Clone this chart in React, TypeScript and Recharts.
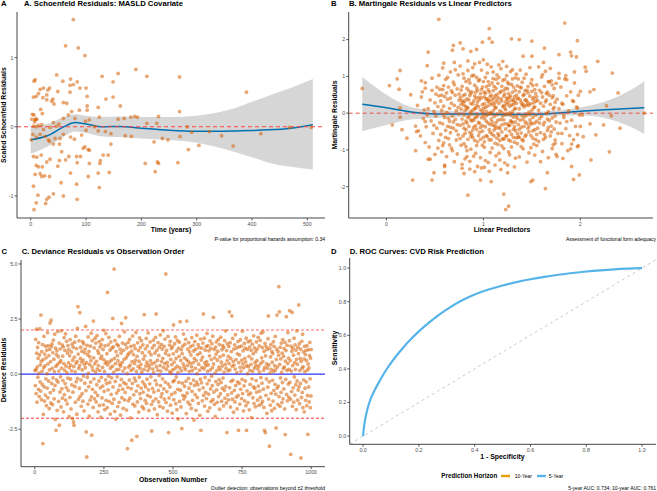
import React from 'react';
import { Area, ComposedChart, Line, ReferenceLine, Scatter, XAxis, YAxis } from 'recharts';

const FONT = '"Liberation Sans", Arial, Helvetica, sans-serif';
const POINT = '#D55E00';
const FIT = '#0072B2';
const AXIS = '#333333';

// A. Schoenfeld residuals (time, scaled residual)
const schoenfeldPoints: [number, number][] = [
  [77,1.55],[63,1.17],[86,1.14],[98,1.03],[190,0.83],[158,0.77],[129,0.73],[210,0.73],[269,0.72],[47,0.75],
  [8,0.68],[6,0.66],[58,0.66],[72,0.69],[84,0.65],[149,0.65],[17,0.54],[23,0.56],[34,0.56],[31,0.53],
  [49,0.51],[71,0.6],[77,0.61],[89,0.56],[100,0.56],[390,0.5],[5,0.43],[10,0.44],[14,0.48],[22,0.42],
  [29,0.39],[38,0.37],[40,0.4],[29,0.46],[71,0.5],[102,0.44],[136,0.4],[149,0.43],[162,0.3],[3,0.18],
  [6,0.17],[11,0.11],[18,0.25],[21,0.19],[42,0.33],[59,0.35],[65,0.34],[74,0.22],[88,0.24],[102,0.3],
  [102,0.24],[122,0.28],[8,0.1],[5,0.01],[14,0.02],[23,-0.04],[35,-0.01],[41,0.06],[47,0.01],[51,0.04],
  [59,0.12],[68,0.17],[80,0.12],[99,0.08],[106,0.1],[124,0.14],[158,0.11],[169,0.12],[181,0.14],[188,0.15],
  [193,0.14],[210,0.05],[231,0.15],[228,0.05],[269,0.22],[283,0],[291,-0.08],[323,-0.07],[345,-0.13],[416,-0.1],
  [468,-0.01],[507,-0.01],[1,-0.19],[10,-0.15],[17,-0.11],[26,-0.14],[34,-0.21],[41,-0.25],[44,-0.17],[53,-0.17],
  [59,-0.11],[72,-0.15],[79,-0.18],[92,-0.12],[98,-0.29],[106,-0.34],[122,-0.06],[135,-0.07],[145,-0.1],[171,-0.13],
  [182,-0.14],[223,-0.22],[238,-0.17],[248,-0.19],[270,-0.14],[285,-0.33],[304,-0.27],[366,-0.28],[5,-0.43],[11,-0.44],
  [19,-0.41],[29,-0.51],[35,-0.47],[52,-0.49],[63,-0.48],[69,-0.43],[83,-0.43],[84,-0.52],[104,-0.33],[106,-0.53],
  [125,-0.53],[131,-0.41],[140,-0.41],[126,-0.49],[145,-0.25],[10,-0.56],[14,-0.58],[21,-0.58],[25,-0.71],[17,-0.68],
  [8,-0.69],[34,-0.72],[20,-0.72],[49,-0.57],[72,-0.67],[83,-0.83],[55,-0.81],[104,-0.72],[122,-0.67],[142,-0.66],
  [124,-0.88],[207,-0.53],[229,-0.51],[231,-0.53],[266,-0.52],[225,-0.65],[5,-0.86],[41,-0.97],[33,-1.02],[29,-1.05],
  [13,-0.99],[59,-1],[84,-1.05],[10,-1.1],[27,-1.11],[6,-1.2],[10,0],[9,0.11],[7,0.07],[4,-0.11],
  [2,0.11],[20,0.03],[32,-0.19],[52,-0.25],[56,-0.36],[100,-0.05],[115,0],[95,-0.31],[90,-0.43],
];
const schoenfeldTime = [0, 30, 60, 80, 100, 130, 160, 200, 250, 300, 340, 370, 400, 430, 470, 510];
const schoenfeldFit = [-0.19, -0.13, 0, 0.06, 0.04, 0, 0.005, -0.02, -0.05, -0.065, -0.065, -0.06, -0.055, -0.045, -0.02, 0.03];
const schoenfeldLower = [-0.39, -0.29, -0.14, -0.07, -0.09, -0.14, -0.15, -0.17, -0.19, -0.23, -0.3, -0.37, -0.44, -0.52, -0.58, -0.62];
const schoenfeldUpper = [0.01, 0.04, 0.14, 0.18, 0.16, 0.14, 0.15, 0.14, 0.14, 0.16, 0.21, 0.27, 0.36, 0.45, 0.56, 0.69];

// B. Martingale residuals (linear predictor, residual)
const martingalePoints: [number, number][] = [
  [-0.25,0.67],[0.03,0.75],[0.13,0.65],[0.11,0.93],[0.14,1.16],[0.14,0.14],[0.14,-0.11],[0.16,-0.45],[0.06,-0.32],[0.21,-0.68],
  [0.27,-1.82],[0.25,0.5],[0.3,-0.35],[0.31,-0.5],[0.3,-1.02],[0.43,1.66],[0.42,1.29],[0.36,0.88],[0.4,0.68],[0.39,0.09],
  [0.4,-0.23],[0.4,-0.8],[0.43,-1.25],[0.49,-1.62],[0.47,-1.82],[0.54,2.55],[0.54,1.03],[0.55,0.65],[0.59,1.36],[0.59,0.75],
  [0.58,-0.88],[0.6,-1.41],[0.6,-1.62],[0.69,1.84],[0.68,1.71],[0.7,1.38],[0.76,1.91],[0.79,1.75],[0.78,-1.5],[0.8,-1.64],
  [0.84,-2.23],[0.83,-1.18],[0.87,1.68],[0.93,1.73],[0.91,-1.59],[0.97,-1.82],[0.99,1.93],[1.06,2.3],[1.06,2.03],[1.09,1.93],
  [1.01,-1.47],[1.08,-1.86],[1.16,-1.09],[1.21,-2.2],[1.23,-2.62],[1.26,-2.53],[1.29,2.02],[1.25,-1.62],[1.37,2],[1.41,1.55],
  [1.5,1.96],[1.5,1.55],[1.49,-1.86],[1.51,-1.82],[1.63,1.77],[1.64,-2.05],[1.66,-1.62],[1.78,1.59],[1.84,2.45],[1.9,1.66],
  [1.91,1.56],[1.96,1.53],[1.97,1.97],[1.93,-1.8],[1.99,-1.68],[1.91,-1.45],[2.05,1.25],[2.06,1.14],[2.18,1.41],[2.33,1.09],
  [2.39,0.55],[2.41,-0.41],[2.3,-1.05],[2.11,-1.27],[2.1,-0.29],[2.16,-0.59],[2.24,-0.32],[2.27,0.2],[2.32,-0.07],[2.66,0],
  [2.14,0.64],[2.1,0.58],[2,0.59],[2.02,-0.05],[2.03,-0.64],[2,-0.36],[1.97,-0.91],[1.91,-0.84],[1.93,0.32],[1.97,0.14],
  [1.81,0.27],[1.83,-0.05],[1.81,-0.55],[1.86,-0.23],[1.74,-0.82],[1.76,-1.18],[1.71,0.77],[1.67,0.86],[1.78,0.95],[1.85,1.02],
  [0.32,0.21],[0.35,-0.62],[0.36,0.44],[0.38,-0.15],[0.4,0.83],[0.41,-0.37],[0.43,0.12],[0.44,-0.92],[0.45,0.36],[0.46,-0.21],
  [0.47,0.62],[0.48,-0.55],[0.49,0.05],[0.5,-1.12],[0.5,0.28],[0.51,-0.08],[0.52,0.71],[0.52,-0.41],[0.53,0.18],[0.54,-0.74],
  [0.54,0.47],[0.55,-0.26],[0.33,-0.48],[0.37,0.58],[0.42,-0.05],[0.45,-1.25],[0.47,0.95],[0.49,-0.33],[0.51,0.52],[0.53,-0.95],
  [0.56,0.33],[0.56,-0.58],[0.57,0.08],[0.57,-1.05],[0.58,0.64],[0.58,-0.29],[0.59,0.19],[0.59,-0.81],[0.6,0.45],[0.6,-0.12],
  [0.61,0.92],[0.61,-0.47],[0.62,0.02],[0.62,-1.18],[0.63,0.38],[0.63,-0.36],[0.64,0.71],[0.64,-0.69],[0.65,0.13],[0.65,-0.22],
  [0.66,1.12],[0.66,-0.53],[0.67,0.27],[0.67,-0.95],[0.68,0.56],[0.68,-0.08],[0.69,0.84],[0.69,-0.41],[0.7,0.21],[0.7,-1.32],
  [0.71,0.49],[0.71,-0.17],[0.72,0.07],[0.72,-0.73],[0.73,0.66],[0.73,-0.31],[0.74,1.04],[0.74,-0.59],[0.75,0.35],[0.75,-0.02],
  [0.58,1.23],[0.6,-1.45],[0.62,0.55],[0.64,-0.14],[0.66,0.41],[0.68,-1.02],[0.7,0.77],[0.72,-0.48],[0.74,0.16],[0.57,0.49],
  [0.61,-0.66],[0.63,0.97],[0.65,-0.86],[0.67,0.61],[0.69,-0.24],[0.71,1.18],[0.73,-1.11],[0.75,0.52],[0.59,-0.04],[0.66,-0.38],
  [0.76,0.42],[0.76,-0.33],[0.77,0.11],[0.77,-0.87],[0.78,0.73],[0.78,-0.16],[0.79,0.29],[0.79,-0.62],[0.8,0.95],[0.8,-0.05],
  [0.81,0.51],[0.81,-1.24],[0.82,0.18],[0.82,-0.45],[0.83,0.67],[0.83,-0.27],[0.84,1.16],[0.84,-0.71],[0.85,0.36],[0.85,-0.09],
  [0.86,0.82],[0.86,-0.52],[0.87,0.04],[0.87,-0.98],[0.88,0.58],[0.88,-0.21],[0.89,0.25],[0.89,-0.66],[0.9,1.03],[0.9,-0.38],
  [0.91,0.47],[0.91,-0.13],[0.92,0.14],[0.92,-1.09],[0.93,0.69],[0.93,-0.44],[0.94,0.31],[0.94,-0.78],[0.95,0.88],[0.95,-0.25],
  [0.77,0.63],[0.78,-1.39],[0.79,1.07],[0.8,-0.41],[0.81,0.07],[0.82,-0.91],[0.83,0.39],[0.84,-0.12],[0.85,0.91],[0.86,-1.31],
  [0.87,0.54],[0.88,-0.57],[0.89,1.24],[0.9,-0.19],[0.91,0.76],[0.92,-0.34],[0.93,0.22],[0.94,-1.45],[0.95,0.43],[0.76,-0.69],
  [0.78,0.34],[0.8,-0.83],[0.82,0.86],[0.84,0.15],[0.86,0.48],[0.88,-0.02],[0.9,0.33],[0.92,0.57],[0.94,-0.06],[0.79,-0.29],
  [0.81,-0.55],[0.83,-1.02],[0.85,-0.36],[0.87,-0.18],[0.89,-0.46],[0.91,-0.74],[0.93,-0.11],[0.95,-0.61],[0.77,0.24],[0.79,0.47],
  [0.81,0.33],[0.83,0.12],[0.85,0.61],[0.87,0.26],[0.89,0.08],[0.91,1.34],[0.93,0.97],[0.95,0.18],[0.76,1.28],[0.84,1.42],
  [0.86,-1.52],[0.88,1.01],[0.9,-1.17],[0.92,0.41],[0.94,0.62],[0.8,0.21],[0.82,-0.22],[0.87,-0.63],[0.91,0.12],[0.93,-0.88],
  [0.96,0.37],[0.96,-0.28],[0.97,0.09],[0.97,-0.71],[0.98,0.64],[0.98,-0.12],[0.99,0.23],[0.99,-0.49],[1,0.86],[1,-0.06],
  [1.01,0.44],[1.01,-0.93],[1.02,0.16],[1.02,-0.37],[1.03,0.72],[1.03,-0.22],[1.04,1.09],[1.04,-0.64],[1.05,0.31],[1.05,-0.03],
  [1.06,0.58],[1.06,-0.45],[1.07,0.02],[1.07,-1.07],[1.08,0.49],[1.08,-0.16],[1.09,0.27],[1.09,-0.57],[1.1,0.94],[1.1,-0.33],
  [1.11,0.41],[1.11,-0.09],[1.12,0.13],[1.12,-0.82],[1.13,0.67],[1.13,-0.41],[1.14,0.35],[1.14,-0.68],[1.15,0.81],[1.15,-0.19],
  [0.96,0.91],[0.97,-1.21],[0.98,1.17],[0.99,-0.34],[1,0.12],[1.01,-0.78],[1.02,0.54],[1.03,-0.07],[1.04,0.39],[1.05,-1.34],
  [1.06,0.76],[1.07,-0.52],[1.08,1.26],[1.09,-0.24],[1.1,0.61],[1.11,-0.46],[1.12,0.29],[1.13,-1.16],[1.14,0.51],[1.15,-0.56],
  [0.96,-0.52],[0.98,0.42],[1,-0.66],[1.02,0.97],[1.04,0.19],[1.06,0.34],[1.08,-0.01],[1.1,0.06],[1.12,0.47],[1.14,-0.04],
  [0.97,0.53],[0.99,0.71],[1.01,0.26],[1.03,0.38],[1.05,0.63],[1.07,0.23],[1.09,0.82],[1.11,0.73],[1.13,0.16],[1.15,0.42],
  [0.97,-0.39],[0.99,-0.87],[1.01,-0.15],[1.03,-0.61],[1.05,-0.27],[1.07,-0.31],[1.09,-0.95],[1.11,-0.62],[1.13,-0.26],[1.15,-0.85],
  [0.96,1.38],[0.98,-1.49],[1,1.45],[1.02,-1.29],[1.04,1.33],[1.06,-1.58],[1.08,-0.73],[1.1,1.12],[1.12,-1.41],[1.14,1.04],
  [1.01,0.57],[1.03,0.05],[1.05,0.86],[1.07,0.45],[1.09,0.37],[1.11,0.21],[1.13,0.92],[0.99,0.04],[1.06,-0.72],[1.12,-0.35],
  [1.16,0.27],[1.16,-0.38],[1.17,0.06],[1.17,-0.74],[1.18,0.59],[1.18,-0.17],[1.19,0.33],[1.19,-0.51],[1.2,0.89],[1.2,-0.08],
  [1.21,0.46],[1.21,-0.96],[1.22,0.14],[1.22,-0.29],[1.23,0.68],[1.23,-0.43],[1.24,1.02],[1.24,-0.61],[1.25,0.38],[1.25,-0.02],
  [1.26,0.53],[1.26,-0.34],[1.27,0.01],[1.27,-1.13],[1.28,0.47],[1.28,-0.21],[1.29,0.22],[1.29,-0.58],[1.3,0.93],[1.3,-0.26],
  [1.31,0.36],[1.31,-0.11],[1.32,0.11],[1.32,-0.79],[1.33,0.62],[1.33,-0.47],[1.34,0.27],[1.34,-0.67],[1.35,0.74],[1.35,-0.14],
  [1.16,0.97],[1.17,-1.27],[1.18,1.21],[1.19,-0.32],[1.2,0.18],[1.21,-0.71],[1.22,0.52],[1.23,-0.04],[1.24,0.41],[1.25,-1.41],
  [1.26,0.79],[1.27,-0.49],[1.28,1.13],[1.29,-0.23],[1.3,0.57],[1.31,-0.44],[1.32,0.31],[1.33,-1.22],[1.34,0.49],[1.35,-0.55],
  [1.16,-0.61],[1.18,0.39],[1.2,-0.69],[1.22,0.92],[1.24,0.24],[1.26,0.29],[1.28,-0.05],[1.3,0.04],[1.32,0.44],[1.34,-0.07],
  [1.17,0.56],[1.19,0.73],[1.21,0.21],[1.23,0.31],[1.25,0.66],[1.27,0.19],[1.29,0.78],[1.31,0.71],[1.33,0.13],[1.35,0.39],
  [1.17,-0.42],[1.19,-0.89],[1.21,-0.18],[1.23,-0.64],[1.25,-0.29],[1.27,-0.33],[1.29,-0.92],[1.31,-0.66],[1.33,-0.24],[1.35,-0.83],
  [1.16,1.31],[1.18,-1.53],[1.2,1.41],[1.22,-1.35],[1.24,1.27],[1.26,-1.05],[1.28,-0.76],[1.3,1.18],[1.32,-1.46],[1.34,1.06],
  [1.21,0.62],[1.23,0.09],[1.25,0.84],[1.27,0.43],[1.29,0.35],[1.31,0.24],[1.33,0.96],[1.19,0.03],[1.26,-0.73],[1.32,-0.37],
  [1.36,0.41],[1.36,-0.31],[1.37,0.12],[1.37,-0.66],[1.38,0.71],[1.38,-0.19],[1.39,0.29],[1.39,-0.54],[1.4,0.84],[1.4,-0.07],
  [1.41,0.48],[1.41,-0.97],[1.42,0.17],[1.42,-0.36],[1.43,0.61],[1.43,-0.24],[1.44,1.06],[1.44,-0.59],[1.45,0.32],[1.45,-0.04],
  [1.46,0.55],[1.46,-0.42],[1.47,0.03],[1.47,-1.08],[1.48,0.46],[1.48,-0.18],[1.49,0.26],[1.49,-0.61],[1.5,0.91],[1.5,-0.29],
  [1.51,0.38],[1.51,-0.12],[1.52,0.15],[1.52,-0.84],[1.53,0.64],[1.53,-0.45],[1.54,0.33],[1.54,-0.72],[1.55,0.77],[1.55,-0.22],
  [1.36,0.93],[1.37,-1.19],[1.38,1.17],[1.39,-0.38],[1.4,0.22],[1.41,-0.75],[1.42,0.51],[1.43,-0.09],[1.44,0.37],[1.45,-1.33],
  [1.46,0.72],[1.47,-0.51],[1.48,1.24],[1.49,-0.26],[1.5,0.59],[1.51,-0.48],[1.52,0.28],[1.53,-1.14],[1.54,0.53],[1.55,-0.58],
  [1.36,-0.64],[1.38,0.36],[1.4,-0.72],[1.42,0.95],[1.44,0.21],[1.46,0.26],[1.48,-0.03],[1.5,0.08],[1.52,0.43],[1.54,-0.06],
  [1.37,0.58],[1.39,0.69],[1.41,0.24],[1.43,0.35],[1.45,0.62],[1.47,0.21],[1.49,0.81],[1.51,0.75],[1.53,0.17],[1.55,0.44],
  [1.37,-0.44],[1.39,-0.91],[1.41,-0.16],[1.43,-0.63],[1.45,-0.28],[1.47,-0.35],[1.49,-0.94],[1.51,-0.68],[1.53,-0.27],[1.55,-0.88],
  [1.56,0.34],[1.56,-0.41],[1.57,0.08],[1.57,-0.77],[1.58,0.62],[1.58,-0.15],[1.59,0.27],[1.59,-0.53],[1.6,0.98],[1.6,-0.09],
  [1.61,0.44],[1.61,-1.04],[1.62,0.19],[1.62,-0.32],[1.63,0.73],[1.63,-0.25],[1.64,1.14],[1.64,-0.66],[1.65,0.36],[1.65,-0.01],
  [1.66,0.57],[1.66,-0.47],[1.67,0.04],[1.67,-1.21],[1.68,0.49],[1.68,-0.2],[1.69,0.24],[1.69,-0.62],[1.7,0.88],[1.7,-0.35],
  [1.71,0.42],[1.71,-0.13],[1.72,0.11],[1.72,-0.86],[1.73,0.67],[1.73,-0.43],[1.74,0.3],[1.74,-0.73],[1.75,0.81],[1.75,-0.24],
  [1.57,1.26],[1.59,-1.32],[1.61,1.05],[1.63,-0.58],[1.65,0.53],[1.67,-0.39],[1.69,1.22],[1.71,-0.96],[1.73,0.16],[1.75,-1.12],
  [1.58,-0.27],[1.6,0.56],[1.62,-0.71],[1.64,0.31],[1.66,-0.16],[1.68,0.85],[1.7,-0.51],[1.72,0.47],[1.74,-0.08],[1.62,1.38],
  [1.76,0.38],[1.77,-0.55],[1.78,0.12],[1.79,-0.27],[1.8,0.71],[1.81,-0.83],[1.82,0.24],[1.83,-0.12],[1.84,0.93],[1.85,-0.42],
  [1.86,0.47],[1.87,-1.02],[1.88,0.06],[1.89,-0.61],[1.9,0.58],[1.91,-0.19],[1.92,0.34],[1.93,-0.72],[1.94,0.82],[1.95,-0.36],
  [1.96,0.17],[1.97,-0.58],[1.98,0.49],[1.99,-0.05],[1.78,1.08],[1.82,-1.23],[1.86,0.91],[1.9,-0.97],[1.94,1.12],[1.98,-0.88],
];
const predictorGrid = [-0.25, 0, 0.25, 0.5, 0.75, 1, 1.25, 1.5, 1.75, 2, 2.25, 2.5, 2.66];
const martingaleFit = [0.245, 0.15, 0.03, -0.02, -0.02, -0.02, -0.035, -0.03, 0, 0.05, 0.09, 0.125, 0.15];
const martingaleLower = [-0.49, -0.32, -0.17, -0.13, -0.1, -0.08, -0.09, -0.09, -0.07, -0.06, -0.13, -0.35, -0.56];
const martingaleUpper = [0.98, 0.5, 0.17, 0.08, 0.05, 0.04, 0.02, 0.03, 0.07, 0.16, 0.31, 0.6, 0.87];

// C. Deviance residuals, one per observation (1..1000)
const devianceResiduals = [
  0.16,-0.52,1.58,0.21,-0.88,2.04,0.95,-1.27,0.33,1.21,-0.14,0.72,-0.69,1.43,0.05,-1.02,0.87,2.06,-0.35,0.42,
  -0.77,2.68,0.58,-1.16,1.02,0.13,-0.47,1.34,-3.15,0.66,-1.83,0.29,1.71,-0.58,-1.22,0.91,0.38,-0.95,1.27,-0.21,
  0.74,-1.43,1.09,0.02,-0.63,1.88,-1.07,0.47,1.29,-0.31,0.84,-1.56,0.19,1.12,2.32,-0.84,0.57,-1.31,2.45,1.26,
  -0.42,1.37,0.26,-1.38,0.98,-0.17,1.54,-0.72,0.68,-1.12,0.11,1.81,-0.51,-2.05,1.18,0.35,-2.55,0.89,-0.26,1.06,
  -1.64,0.44,1.93,-0.36,0.79,-1.24,0.14,1.41,-2.32,0.53,-0.81,1.15,-0.12,0.61,-1.49,1.97,0.27,-0.66,1.33,-1.09,
  0.82,-0.29,1.24,-1.71,0.48,1.66,-0.93,0.18,1.08,-0.43,1.83,-1.18,0.36,-0.61,1.49,0.07,-1.35,0.96,-0.18,1.29,
  -0.74,0.52,1.11,-1.93,0.29,0.83,-1.05,1.57,-0.22,0.41,-1.58,1.01,0.15,-0.49,1.36,-2.01,0.63,-0.82,1.22,-2.17,
  0.34,-2.32,0.77,1.45,-0.56,0.11,-1.27,1.72,0.49,-0.34,1.16,-1.82,0.58,2.08,-0.19,3.06,0.91,-1.14,0.26,1.51,
  -0.64,0.38,2.79,-1.01,0.71,1.22,-0.27,-1.46,0.55,1.04,-0.89,0.19,1.47,-1.23,0.64,-0.08,1.38,-1.67,0.45,0.97,
  -0.41,1.14,0.29,2.17,-0.75,-2.62,0.52,-3.76,1.31,-0.14,0.88,-1.36,1.69,0.04,-0.57,1.03,-1.91,0.44,0.79,-1.18,
  1.27,-0.36,0.61,1.86,-1.03,-2.77,0.33,1.52,-0.69,0.18,-1.51,2.41,0.74,-0.21,1.19,-1.12,0.47,1.63,-0.83,0.09,
  1.41,-1.26,0.58,-0.48,1.75,0.23,-0.97,1.06,-1.71,0.39,0.94,-0.31,1.48,-1.42,0.16,1.23,-0.62,0.71,-1.95,1.34,
  -0.15,0.82,-1.08,1.57,0.31,-0.54,1.12,-1.39,0.66,1.99,-0.78,0.12,-1.61,1.28,0.49,-0.26,1.84,-1.19,0.57,-0.43,
  0.93,-1.52,3.71,0.42,-0.71,1.33,-0.09,1.67,-1.24,0.55,-0.38,1.09,-1.81,0.27,1.46,-0.92,0.63,-0.17,1.18,-1.33,
  0.36,2.53,-0.58,1.24,0.08,-1.14,4.77,0.71,-1.69,1.53,-0.33,0.48,-2.04,1.02,0.19,-0.86,1.36,-0.12,0.84,-1.47,
  0.61,1.29,-0.73,0.22,-1.28,1.71,0.45,-0.51,1.13,-1.86,0.37,0.96,-0.24,2.3,-1.07,0.53,1.41,-0.68,0.14,-1.55,
  1.08,-0.39,0.67,1.92,-1.17,0.28,-0.83,1.35,2.56,-0.45,0.74,-1.63,1.19,0.03,-3.38,0.86,-0.61,1.44,-1.21,0.32,
  0.95,-0.27,1.58,-1.09,0.41,-1.98,1.26,0.17,-0.66,1.04,-3,0.57,-0.42,1.73,-1.36,0.24,0.89,-0.94,1.31,-0.18,
  0.48,-1.44,1.16,0.63,-0.31,1.89,-0.77,0.12,-2.82,0.81,-1.26,1.42,-0.53,0.35,1.07,-1.72,0.59,-0.14,1.64,-0.89,
  0.26,1.21,-1.11,0.44,-0.63,1.52,0.09,-1.48,0.97,-0.35,1.33,-0.82,0.68,-1.57,0.21,2.7,-0.46,0.83,-1.19,1.15,
  -0.58,0.37,1.62,-1.32,0.54,-0.23,1.28,-0.97,0.16,1.87,-0.71,0.42,-1.65,1.01,0.29,-0.44,1.46,-1.03,0.61,-0.12,
  0.88,-1.37,-2.58,0.46,1.19,-0.65,0.23,-1.22,1.54,0.07,-0.81,1.31,-1.58,0.52,0.96,-0.29,1.67,-1.12,2.73,0.34,
  -0.47,1.09,-1.84,0.63,0.18,1.43,-0.74,-1.26,0.85,-0.06,1.22,-1.46,0.39,1.78,-0.52,0.14,-1.03,1.35,0.57,-0.88,
  1.14,-0.21,0.72,-1.53,1.97,0.31,-0.67,1.26,-1.14,0.48,1.59,-0.36,0.94,4.55,-1.29,0.22,1.08,-0.79,0.53,-1.68,
  0.37,1.71,-0.45,-2.65,0.86,-1.08,1.32,0.11,-0.58,1.49,-1.41,0.67,0.04,1.16,-0.92,0.43,-1.77,1.25,0.19,-0.34,
  0.92,2.23,-1.16,0.55,-0.28,1.38,-0.84,0.26,1.69,-1.34,0.71,-0.13,1.04,-1.61,0.36,1.53,-0.69,0.08,-2.03,1.17,
  -0.37,0.81,1.45,-1.24,0.28,2.38,-0.73,0.62,-1.49,1.11,0.15,-2.47,0.93,-0.41,1.27,-0.96,0.47,1.82,-1.13,0.33,
  0.74,-0.55,1.36,-1.01,0.21,1.58,-0.32,-1.79,0.66,2.41,-0.86,0.39,1.14,-1.27,0.58,-0.19,1.43,-0.64,0.12,1.02,
  -1.38,0.49,1.24,-0.43,0.87,-1.56,0.34,1.66,-0.78,0.16,-1.19,1.31,0.52,-0.27,1.05,-2.08,0.71,-0.51,1.48,-0.93,
  0.27,1.13,-1.64,0.61,-0.36,1.77,0.02,-1.06,0.89,-0.48,1.34,-1.33,0.45,1.21,-0.71,0.18,-1.87,0.96,-0.23,1.59,
  -2.55,0.64,-0.39,1.18,0.31,-1.21,0.77,1.41,-0.62,2.73,-0.96,0.24,1.63,-1.45,0.51,-0.15,1.09,-0.83,0.38,1.26,
  -1.11,0.57,1.85,-0.44,0.13,-1.68,1.29,0.42,-0.91,1.06,-0.28,0.83,-1.53,1.51,0.19,-0.67,1.17,-1.24,0.66,-0.09,
  1.38,-0.52,0.29,1.72,-1.16,2.58,0.46,-0.81,1.12,-1.37,0.74,0.05,-1.92,1.23,-0.34,0.91,1.46,-0.71,0.17,-1.28,
  0.63,1.04,-0.47,1.57,-1.02,0.32,-0.25,1.34,-1.59,0.78,0.21,-0.89,1.68,-0.38,0.54,-1.23,1.11,0.37,-0.64,1.29,
  -0.18,0.86,-1.44,1.21,0.09,-0.73,1.52,-1.09,0.44,1.96,-0.56,0.27,-1.31,1.07,-2.65,0.62,1.38,-0.94,0.15,0.81,
  -1.17,1.26,0.48,2.83,-0.62,0.19,1.43,-1.49,0.71,-0.33,1.02,-0.85,2.64,0.36,-1.14,1.62,-0.27,0.58,-1.73,1.14,
  0.41,-0.74,1.33,-1.26,0.23,1.79,-0.51,0.66,-1.04,1.19,0.07,-1.58,0.92,-0.35,1.48,-0.97,-2.55,0.52,1.24,-0.42,
  0.87,-1.36,0.31,1.56,-0.69,0.14,1.27,-1.11,0.63,-0.24,1.95,-0.88,0.46,1.06,-1.67,0.29,-0.53,1.39,-1.21,0.72,
  1.18,-0.31,0.56,-1.43,1.63,-2.55,0.38,-0.76,1.12,0.02,-1.29,1.47,0.34,-0.93,0.81,-1.62,1.23,0.17,-0.46,1.51,
  -0.86,0.44,1.08,-1.97,0.69,-0.21,1.36,0.13,-1.07,0.92,-0.58,1.74,-1.33,0.27,1.19,-0.64,0.53,-1.48,1.02,0.38,
  -0.29,1.46,-0.82,0.61,1.14,-1.18,0.23,1.67,-0.54,0.36,-1.42,1.28,0.09,-0.77,1.53,-1.06,0.48,-0.16,1.86,-1.35,
  0.74,-0.41,1.21,-1.24,0.57,1.92,-0.68,0.18,-1.51,1.04,-2.55,0.31,1.39,-2.65,0.83,-0.96,1.25,-0.22,0.46,-1.78,
  1.12,0.27,-0.59,1.61,2.64,-1.13,0.42,-0.35,-3.27,1.18,0.06,-1.41,0.78,1.34,-0.87,0.21,-1.66,1.03,0.54,-0.28,
  0.93,-1.22,1.47,0.12,-0.74,1.26,-1.55,0.38,-0.46,1.71,0.19,-0.91,-2.44,0.67,1.14,2.68,-0.63,0.32,-1.37,1.03,
  -0.54,0.86,3.97,-1.02,2.83,0.44,-1.46,1.22,-0.17,0.69,-0.83,1.41,0.08,-1.29,0.95,-0.38,1.57,-1.12,0.26,0.81,
  -0.67,1.16,0.33,-1.58,1.44,-2.74,0.59,-0.24,1.07,2.61,-0.92,0.17,1.31,-1.21,0.48,1.89,-0.45,0.73,-1.04,0.22,
  1.52,2.88,-0.37,0.61,-1.14,-3.64,1.27,0.14,-0.79,1.04,2.8,-1.46,0.39,1.18,-0.62,0.86,-1.27,1.63,-0.13,0.52,
  -0.95,1.33,0.21,-0.48,1.09,-1.61,0.67,1.96,-0.31,0.45,-1.18,1.22,-0.72,0.93,3.14,-0.57,1.38,-1.34,0.16,0.71,
  -0.42,1.13,-3.8,0.58,-1.06,1.49,0.27,-0.83,1.81,-1.52,0.34,1.01,-0.26,0.69,-1.71,1.26,0.11,-0.64,0.89,-1.19,
  1.07,-0.35,0.62,-1.43,1.29,0.18,-0.97,-2.73,0.46,1.11,-0.58,0.28,-1.26,0.84,1.44,-0.21,-1.52,0.73,-0.99,1.12,
];

// D. ROC curve, 5-year horizon
const rocFpr = [0, 0.003, 0.01, 0.02, 0.03, 0.04, 0.055, 0.07, 0.085, 0.1, 0.12, 0.145, 0.17, 0.2, 0.235, 0.27, 0.31, 0.35, 0.4, 0.45, 0.5, 0.55, 0.6, 0.65, 0.7, 0.75, 0.8, 0.85, 0.9, 0.95, 1];
const rocTpr5 = [0, 0.06, 0.125, 0.19, 0.235, 0.27, 0.315, 0.36, 0.4, 0.435, 0.48, 0.53, 0.575, 0.625, 0.675, 0.72, 0.765, 0.805, 0.845, 0.873, 0.897, 0.917, 0.934, 0.948, 0.961, 0.971, 0.98, 0.987, 0.993, 0.997, 1];

const aPoints = schoenfeldPoints.map(([x, y]) => ({ x, y }));
const aSmooth = schoenfeldTime.map((x, i) => ({ x, fit: schoenfeldFit[i], band: [schoenfeldLower[i], schoenfeldUpper[i]] }));
const bPoints = martingalePoints.map(([x, y]) => ({ x, y }));
const bSmooth = predictorGrid.map((x, i) => ({ x, fit: martingaleFit[i], band: [martingaleLower[i], martingaleUpper[i]] }));
const cPoints = devianceResiduals.map((y, i) => ({ x: i + 1, y }));
const dRoc = rocFpr.map((x, i) => ({ x, tpr: rocTpr5[i] }));

const tickStyle = { fontSize: 5.3, fill: '#4d4d4d', fontFamily: FONT };
const axisLine = { stroke: AXIS, strokeWidth: 0.9 };
const tickLine = { stroke: AXIS, strokeWidth: 0.8 };
const fmt1 = (v: number) => v.toFixed(1);

function Dot(props: any) {
  const { cx, cy } = props;
  if (cx == null || cy == null) return null;
  return <circle cx={cx} cy={cy} r={1.9} fill={POINT} fillOpacity={0.55} />;
}

function Txt({ x, y, size = 5, bold = false, anchor = 'middle', rotate = false, color = '#000', children }: any) {
  const tx = anchor === 'start' ? '0' : anchor === 'end' ? '-100%' : '-50%';
  return (
    <div
      style={{
        position: 'absolute', left: x, top: y, whiteSpace: 'nowrap', lineHeight: 1,
        fontSize: size, fontWeight: bold ? 700 : 400, color, fontFamily: FONT,
        transform: `translate(${tx},-50%)${rotate ? ' rotate(-90deg)' : ''}`,
      }}
    >
      {children}
    </div>
  );
}

function Box({ left, top, children }: any) {
  return <div style={{ position: 'absolute', left, top }}>{children}</div>;
}

function Swatch({ x, color }: any) {
  return (
    <svg style={{ position: 'absolute', left: x, top: 472.5 }} width={9} height={6}>
      <line x1={0} y1={3} x2={9} y2={3} stroke={color} strokeWidth={2.4} />
    </svg>
  );
}

export default function App() {
  return (
    <div style={{ position: 'absolute', left: 0, top: 0, width: 657, height: 491, background: '#fff', fontFamily: FONT, overflow: 'hidden' }}>
      {/* A */}
      <Box left={0} top={0}>
        <ComposedChart width={328} height={245} margin={{ top: 12, right: 3, bottom: 0, left: 0 }}>
          <XAxis type="number" dataKey="x" domain={[-24.8, 532]} ticks={[0, 100, 200, 300, 400, 500]} allowDataOverflow
            height={27} tickSize={2.5} tickMargin={1.5} tick={tickStyle} axisLine={axisLine} tickLine={tickLine} interval={0} />
          <YAxis type="number" domain={[-1.32, 1.66]} ticks={[-1, 0, 1]} allowDataOverflow
            width={17} tickSize={2.5} tickMargin={1} tick={tickStyle} axisLine={axisLine} tickLine={tickLine} interval={0} />
          <Scatter data={aPoints} dataKey="y" shape={Dot} isAnimationActive={false} />
          <Area data={aSmooth} dataKey="band" type="monotone" stroke="none" fill="#999999" fillOpacity={0.4} isAnimationActive={false} />
          <Line data={aSmooth} dataKey="fit" type="monotone" stroke={FIT} strokeWidth={1.5} dot={false} activeDot={false} isAnimationActive={false} />
          <ReferenceLine y={0} stroke="#FF4545" strokeWidth={1} strokeDasharray="4 3" />
        </ComposedChart>
      </Box>

      {/* B */}
      <Box left={328} top={0}>
        <ComposedChart width={329} height={245} margin={{ top: 12, right: 4, bottom: 0, left: 0 }}>
          <XAxis type="number" dataKey="x" domain={[-0.39, 2.75]} ticks={[0, 1, 2]} allowDataOverflow
            height={27} tickSize={2.5} tickMargin={1.5} tick={tickStyle} axisLine={axisLine} tickLine={tickLine} interval={0} />
          <YAxis type="number" domain={[-2.85, 2.75]} ticks={[-2, -1, 0, 1, 2]} allowDataOverflow
            width={20.7} tickSize={2.5} tickMargin={1} tick={tickStyle} axisLine={axisLine} tickLine={tickLine} interval={0} />
          <Scatter data={bPoints} dataKey="y" shape={Dot} isAnimationActive={false} />
          <Area data={bSmooth} dataKey="band" type="monotone" stroke="none" fill="#999999" fillOpacity={0.4} isAnimationActive={false} />
          <Line data={bSmooth} dataKey="fit" type="monotone" stroke={FIT} strokeWidth={1.5} dot={false} activeDot={false} isAnimationActive={false} />
          <ReferenceLine y={0} stroke="#E8433A" strokeWidth={0.9} strokeDasharray="4 3" />
        </ComposedChart>
      </Box>

      {/* C */}
      <Box left={0} top={245}>
        <ComposedChart width={328} height={246} margin={{ top: 15, right: 3, bottom: 0, left: 0 }}>
          <XAxis type="number" dataKey="x" domain={[-50, 1050]} ticks={[0, 250, 500, 750, 1000]} allowDataOverflow
            height={24.3} tickSize={2.5} tickMargin={1} tick={tickStyle} axisLine={axisLine} tickLine={tickLine} interval={0} />
          <YAxis type="number" domain={[-4.2, 5.18]} ticks={[-2.5, 0, 2.5, 5]} tickFormatter={fmt1} allowDataOverflow
            width={21} tickSize={2.5} tickMargin={1} tick={tickStyle} axisLine={axisLine} tickLine={tickLine} interval={0} />
          <Scatter data={cPoints} dataKey="y" shape={Dot} isAnimationActive={false} />
          <ReferenceLine y={0} stroke="#2B35FF" strokeWidth={1.1} />
          <ReferenceLine y={2} stroke="#FF9C9C" strokeWidth={1.5} strokeDasharray="3 2" />
          <ReferenceLine y={-2} stroke="#FF3B3B" strokeWidth={1} strokeDasharray="3 2" />
        </ComposedChart>
      </Box>

      {/* D */}
      <Box left={328} top={245}>
        <ComposedChart width={329} height={246} margin={{ top: 13, right: 1, bottom: 22.7, left: 0 }}>
          <XAxis type="number" dataKey="x" domain={[-0.048, 1.05]} ticks={[0, 0.2, 0.4, 0.6, 0.8, 1]} tickFormatter={fmt1} allowDataOverflow
            height={24} tickSize={2.5} tickMargin={1.5} tick={tickStyle} axisLine={axisLine} tickLine={tickLine} interval={0} />
          <YAxis type="number" domain={[-0.049, 1.06]} ticks={[0, 0.2, 0.4, 0.6, 0.8, 1]} tickFormatter={fmt1} allowDataOverflow
            width={21.7} tickSize={2.5} tickMargin={1} tick={tickStyle} axisLine={axisLine} tickLine={tickLine} interval={0} />
          <ReferenceLine segment={[{ x: -0.048, y: -0.048 }, { x: 1.05, y: 1.05 }]} ifOverflow="visible" stroke="#BDBDBD" strokeWidth={0.8} strokeDasharray="3 3" />
          <Line data={dRoc} dataKey="tpr" type="basis" stroke="#56B4E9" strokeWidth={2.2} dot={false} activeDot={false} isAnimationActive={false} />
        </ComposedChart>
      </Box>

      {/* titles */}
      <Txt x={1} y={3.8} size={7.7} bold anchor="start">A</Txt>
      <Txt x={24} y={3.8} size={7.7} bold anchor="start">A. Schoenfeld Residuals: MASLD Covariate</Txt>
      <Txt x={331} y={3.8} size={7.7} bold anchor="start">B</Txt>
      <Txt x={349} y={3.8} size={7.7} bold anchor="start">B. Martingale Residuals vs Linear Predictors</Txt>
      <Txt x={1.5} y={251.5} size={7.7} bold anchor="start">C</Txt>
      <Txt x={21.7} y={251.5} size={7.7} bold anchor="start">C. Deviance Residuals vs Observation Order</Txt>
      <Txt x={331} y={251.5} size={7.7} bold anchor="start">D</Txt>
      <Txt x={349.7} y={251.5} size={7.7} bold anchor="start">D. ROC Curves: CVD Risk Prediction</Txt>

      {/* axis titles */}
      <Txt x={171} y={230} size={6.9} bold>Time (years)</Txt>
      <Txt x={3.8} y={115} size={6.9} bold rotate>Scaled Schoenfeld Residuals</Txt>
      <Txt x={502} y={230} size={6.9} bold>Linear Predictors</Txt>
      <Txt x={334.7} y={115} size={6.9} bold rotate>Martingale Residuals</Txt>
      <Txt x={173} y={479.5} size={6.9} bold>Observation Number</Txt>
      <Txt x={3.5} y={370} size={6.9} bold rotate>Deviance Residuals</Txt>
      <Txt x={502.5} y={456.7} size={6.9} bold>1 - Specificity</Txt>
      <Txt x={334.7} y={347.5} size={6.9} bold rotate>Sensitivity</Txt>

      {/* captions */}
      <Txt x={325} y={239} size={5} anchor="end">P-value for proportional hazards assumption: 0.34</Txt>
      <Txt x={656} y={239} size={5} anchor="end">Assessment of functional form adequacy</Txt>
      <Txt x={325} y={488.3} size={5} anchor="end">Outlier detection: observations beyond ±2 threshold</Txt>
      <Txt x={656} y={488.3} size={5} anchor="end">5-year AUC: 0.734; 10-year AUC: 0.761</Txt>

      {/* legend for D */}
      <Txt x={441.3} y={475.5} size={6.3} bold anchor="start">Prediction Horizon</Txt>
      <Swatch x={501} color="#E69F00" />
      <Txt x={514.7} y={475.5} size={5} anchor="start">10-Year</Txt>
      <Swatch x={537} color="#56B4E9" />
      <Txt x={548.7} y={475.5} size={5} anchor="start">5-Year</Txt>
    </div>
  );
}
